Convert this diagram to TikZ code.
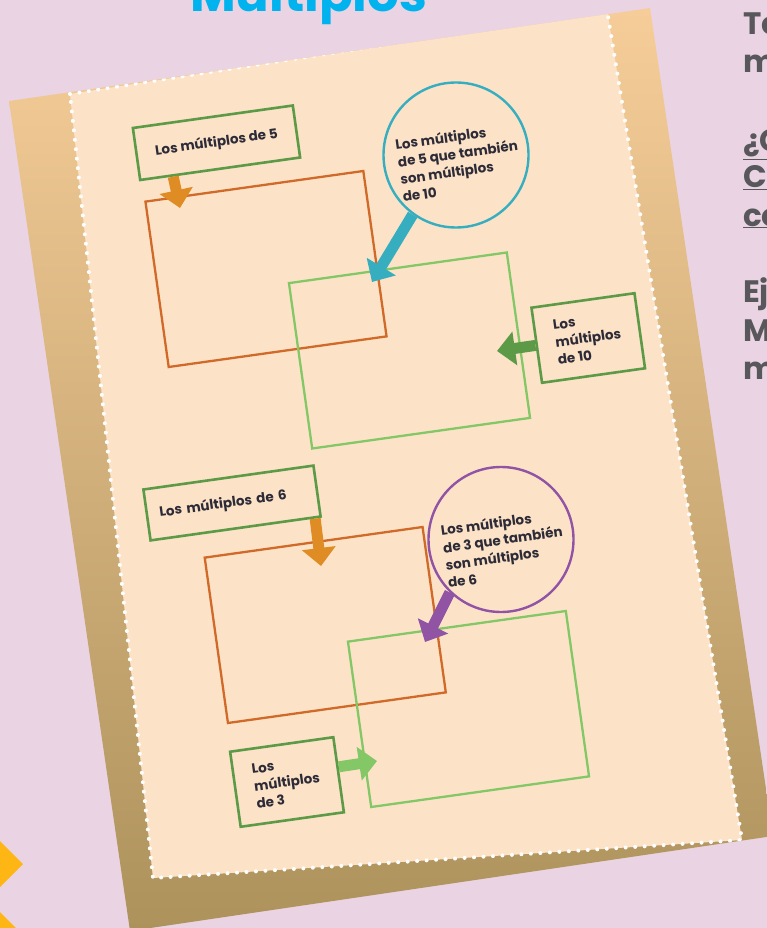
\documentclass[tikz,border=0pt]{standalone}
\usepackage{fontspec}
\setmainfont{Poppins}
\usetikzlibrary{arrows.meta,calc}
\definecolor{bgc}{HTML}{EAD4E3}
\definecolor{ttl}{HTML}{00B3EF}
\definecolor{rtxt}{HTML}{58575B}
\definecolor{pgtop}{HTML}{F6CD99}
\definecolor{pgbot}{HTML}{AD925C}
\definecolor{cream}{HTML}{FCE3C8}
\definecolor{dkgreen}{HTML}{5C9A47}
\definecolor{ltgreen}{HTML}{84C766}
\definecolor{rorange}{HTML}{D16A29}
\definecolor{aorange}{HTML}{E08C24}
\definecolor{cteal}{HTML}{36AEC0}
\definecolor{cpurple}{HTML}{9154A5}
\definecolor{ctext}{HTML}{2D2B37}
\definecolor{cyellow}{HTML}{FDB614}
\begin{document}
\begin{tikzpicture}[x=1pt,y=-1pt,
  rtext/.style={anchor=base west, inner sep=0, text=rtxt, font=\bfseries\fontsize{31}{31}\selectfont},
  box/.style={draw=dkgreen, line width=2.6pt, rotate=8, inner sep=0, text=ctext,
    font=\bfseries\fontsize{13.5}{17.5}\selectfont, align=left},
  bigrect/.style={draw, line width=2.3pt, rotate=8, minimum width=220pt, minimum height=167pt, inner sep=0},
  bubble/.style={circle, line width=2.4pt, minimum size=145pt, inner sep=0},
  btext/.style={rotate=8, align=left, inner sep=0, text=ctext, font=\bfseries\fontsize{13.5}{17.5}\selectfont},
  arr/.style={line width=11pt, -{Triangle[length=18pt,width=33pt]}},
  dots/.style={draw=white, line width=4pt, dash pattern=on 0pt off 9.5pt, line cap=round}
]
\useasboundingbox (0,0) rectangle (767,928);
\clip (0,0) rectangle (767,928);
\fill[bgc] (0,0) rectangle (767,928);

% title and side text
\node[anchor=base west, inner sep=0, text=ttl, font=\bfseries] (title) at (190,12) {\resizebox{237pt}{!}{Múltiplos}};
\node[rtext] (r1) at (743,35) {Te};
\node[rtext] (r2) at (743,73) {m};
\node[rtext] (r3) at (743,152) {\underline{¿C}};
\node[rtext] (r4) at (743,188) {\underline{C}};
\node[rtext] (r5) at (743,226) {\underline{co}};
\node[rtext] (r6) at (743,302) {Ej};
\node[rtext] (r7) at (743,341) {M};
\node[rtext] (r8) at (743,379) {m};

% yellow diamonds
\fill[cyellow] (-67,864) -- (-22,819) -- (23,864) -- (-22,909) -- cycle;
\fill[cyellow] (-67,935) -- (-22,890) -- (23,935) -- (-22,980) -- cycle;

% page
\shade[top color=pgtop, bottom color=pgbot] (9,101) -- (650,8) -- (773,836) -- (130,931) -- cycle;
\begin{scope}
  \clip (9,101) -- (650,8) -- (773,836) -- (130,931) -- cycle;
  \fill[cream] (70,94) -- (607,10) -- (742,840) -- (153,878) -- cycle;
  \path[dots] (70,94) -- (607,10) -- (742,840) -- (153,878) -- cycle;
\end{scope}

% upper diagram
\node[bigrect, draw=rorange] (o1) at (266,269) {};
\node[bigrect, draw=ltgreen] (g1) at (409.5,350.5) {};
\node[box, minimum width=161.5pt, minimum height=52.5pt] (b5) at (216.5,142.75) {Los múltiplos de 5};
\node[box, minimum width=104pt, minimum height=75.8pt] (b10) at (588.25,338) {Los\\múltiplos\\de 10};
\node[bubble, draw=cteal] (c1) at (456,155) {};
\node[btext] (c1t) at (459,162) {Los múltiplos\\de 5 que también\\son múltiplos\\de 10};

% lower diagram
\node[bigrect, draw=rorange] (o2) at (325.25,625) {};
\node[bigrect, draw=ltgreen] (g2) at (468.5,709) {};
\node[box, minimum width=171.7pt, minimum height=51.4pt, text width=146pt] (b6) at (232,503) {Los múltiplos de 6};
\node[box, minimum width=104.2pt, minimum height=75.8pt] (b3) at (287,782) {Los\\múltiplos\\de 3};
\node[bubble, draw=cpurple] (c2) at (501,539.5) {};
\node[btext] (c2t) at (504,548) {Los múltiplos\\de 3 que también\\son múltiplos\\de 6};

% arrows
\coordinate (t1) at (180,208);
\coordinate (t2) at (372,282);
\coordinate (t3) at (497,351);
\coordinate (t4) at (321,566);
\coordinate (t5) at (425,642);
\coordinate (t6) at (377,761);
\draw[arr, aorange] ($(b5.south west)!0.21!(b5.south east)$) -- (t1);
\draw[arr, cteal] (c1.234.75) -- (t2);
\draw[arr, dkgreen] (b10.west) -- (t3);
\draw[arr, aorange] ($(b6.south west)!0.96!(b6.south east)$) -- (t4);
\draw[arr, cpurple] (c2.226.6) -- (t5);
\draw[arr, ltgreen] ($(b3.north east)!0.4!(b3.south east)$) -- (t6);
\end{tikzpicture}
\end{document}
